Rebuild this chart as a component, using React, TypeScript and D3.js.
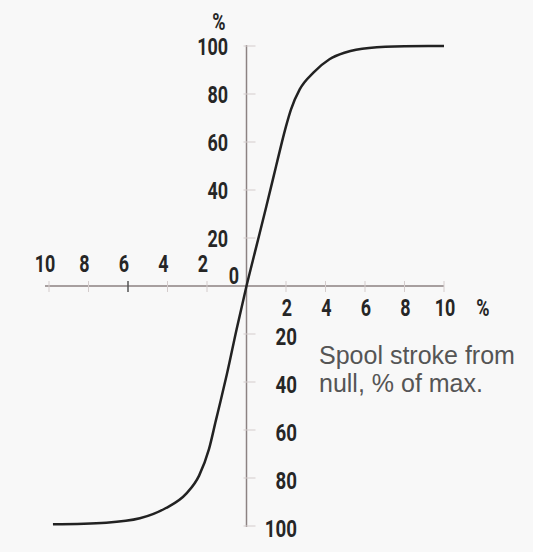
import { useEffect, useRef } from "react";
import * as d3 from "d3";

// spool stroke (% of max) vs output (%)
const strokeValues = [
  -9.8, -7.1, -5.4, -4.1, -3.05, -2.4, -1.9, -1.55, -1.3, -1, -0.5, 0,
  0.5, 1, 1.5, 1.75, 2, 2.25, 2.7, 3.4, 4.2, 5, 6.2, 8, 10,
];
const outputValues = [
  -99.3, -98.6, -96.8, -92.6, -86.5, -79, -68, -56, -47.5, -37, -18, 0,
  16.5, 33, 50, 58.5, 66.5, 73.5, 82, 89, 94.5, 97.3, 99.2, 99.9, 100,
];

const leftTicks = [10, 8, 6, 4, 2];
const rightTicks = [2, 4, 6, 8, 10];
const upperTicks = [100, 80, 60, 40, 20];
const lowerTicks = [20, 40, 60, 80, 100];
const noteLines = ["Spool stroke from", "null, % of max."];

const W = 533;
const H = 552;

const App: React.FC = () => {
  const ref = useRef<SVGSVGElement>(null);

  useEffect(() => {
    const svg = d3.select(ref.current);
    svg.selectAll("*").remove();

    const x = d3.scaleLinear().domain([-10, 10]).range([49, 444]);
    const y = d3.scaleLinear().domain([-100, 100]).range([526, 46]);

    const axisColor = "#8c8282";

    svg.append("rect").attr("width", W).attr("height", H).attr("fill", "#f8f8f8");

    // axes
    svg
      .append("line")
      .attr("x1", 45)
      .attr("x2", x(10))
      .attr("y1", y(0))
      .attr("y2", y(0))
      .attr("stroke", axisColor)
      .attr("stroke-width", 1.5);
    svg
      .append("line")
      .attr("x1", x(0))
      .attr("x2", x(0))
      .attr("y1", y(100) - 1)
      .attr("y2", y(-100) + 1)
      .attr("stroke", axisColor)
      .attr("stroke-width", 1.5);

    // little tick marks
    svg
      .selectAll(".xtick")
      .data([...leftTicks.map((d) => -d), ...rightTicks])
      .enter()
      .append("line")
      .attr("x1", (d) => x(d))
      .attr("x2", (d) => x(d))
      .attr("y1", y(0) - 5)
      .attr("y2", y(0) + 6)
      .attr("stroke", (d) => (d === -6 ? "#555" : "#d4cccc"))
      .attr("stroke-width", (d) => (d === -6 ? 1.5 : 1));
    svg
      .selectAll(".ytick")
      .data([...upperTicks, ...lowerTicks.map((d) => -d)])
      .enter()
      .append("line")
      .attr("x1", x(0) - 3)
      .attr("x2", x(0) + 9)
      .attr("y1", (d) => y(d))
      .attr("y2", (d) => y(d))
      .attr("stroke", "#d4cccc")
      .attr("stroke-width", 1);

    // condensed digits: no narrow font installed, so squeeze Roboto
    const label = (tx: number, ty: number, t: string, anchor = "middle", size = 23) =>
      svg
        .append("text")
        .attr("transform", `translate(${tx},${ty}) scale(0.78,1)`)
        .attr("dy", "0.36em")
        .attr("text-anchor", anchor)
        .attr("font-family", "Roboto, sans-serif")
        .attr("font-weight", 700)
        .attr("font-size", size)
        .attr("fill", "#262626")
        .text(t);

    leftTicks.forEach((d) => label(x(-d) - 4, y(0) - 22, String(d)));
    rightTicks.forEach((d) => label(x(d) + 1, y(0) + 22, String(d)));
    label(483, y(0) + 22, "%");
    upperTicks.forEach((d) => label(228, y(d) + 1, String(d), "end"));
    lowerTicks.forEach((d) => label(297, y(-d) + 2, String(d), "end", 24));
    label(234, y(0) - 10, "0");
    label(219, 22, "%");

    // note text
    svg
      .append("text")
      .attr("font-family", "'Liberation Sans', Arial, sans-serif")
      .attr("font-size", 25)
      .attr("fill", "#555")
      .selectAll("tspan")
      .data(noteLines)
      .enter()
      .append("tspan")
      .attr("x", 319)
      .attr("y", (_, i) => 364 + i * 28)
      .text((d) => d);

    // the curve
    const pts = strokeValues.map((s, i) => [s, outputValues[i]] as [number, number]);
    const line = d3
      .line<[number, number]>()
      .x((d) => x(d[0]))
      .y((d) => y(d[1]))
      .curve(d3.curveMonotoneX);
    svg
      .append("path")
      .attr("d", line(pts))
      .attr("fill", "none")
      .attr("stroke", "#222")
      .attr("stroke-width", 2.5);
  }, []);

  return (
    <svg
      ref={ref}
      width={W}
      height={H}
      style={{ position: "absolute", left: 0, top: 0 }}
    />
  );
};

export default App;
